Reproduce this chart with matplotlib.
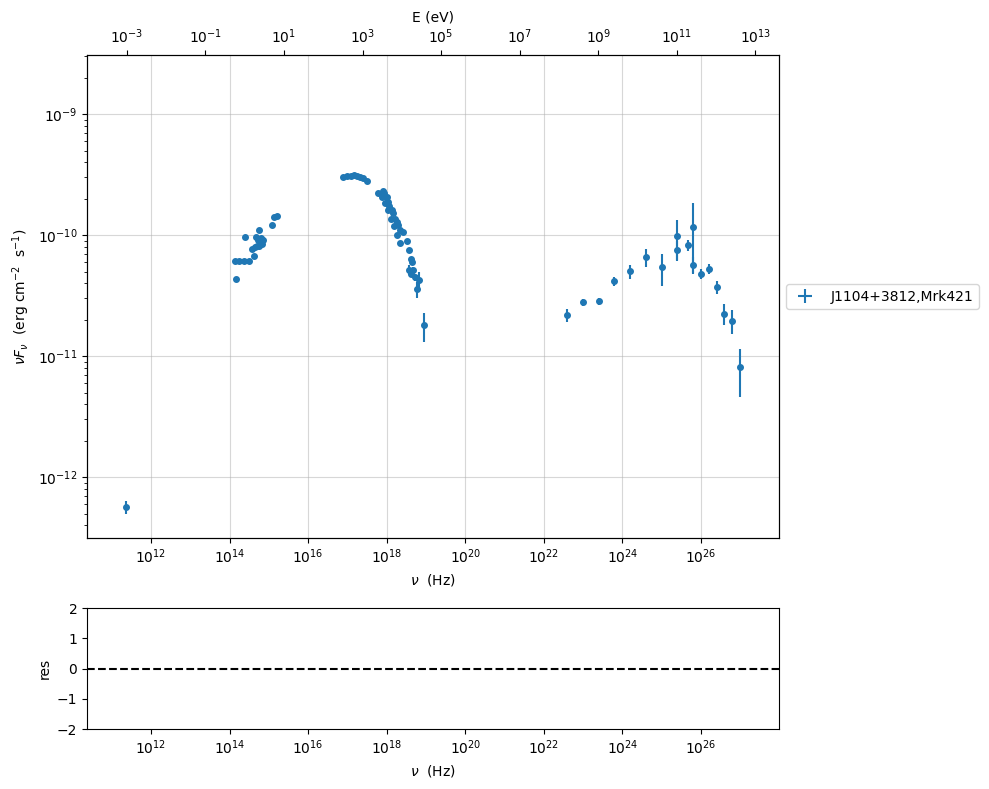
import matplotlib
matplotlib.use("Agg")
import matplotlib.pyplot as plt
import numpy as np

# SED of J1104+3812 (Mrk421)
nu = np.array([
    2.34e11,
    # optical / UV
    1.46e14, 1.35e14, 1.77e14, 2.32e14, 3.17e14, 2.47e14,
    3.72e14, 4.18e14, 4.43e14, 4.70e14, 4.98e14, 5.28e14, 5.60e14, 5.60e14,
    6.30e14, 6.67e14, 7.08e14, 1.22e15, 1.35e15, 1.58e15,
    # X-ray
    7.67e16, 9.70e16, 1.23e17, 1.46e17, 1.75e17, 2.08e17, 2.48e17, 3.13e17,
    6.08e17, 8.15e17, 8.63e17, 7.41e17, 9.93e17, 8.99e17, 1.09e18, 1.16e18,
    1.09e18, 1.33e18, 1.46e18, 1.28e18, 1.62e18, 1.79e18, 1.55e18, 1.96e18,
    2.17e18, 2.63e18, 1.79e18, 3.33e18, 2.17e18, 3.67e18, 4.13e18, 4.31e18,
    3.74e18, 4.72e18, 4.06e18, 5.22e18, 6.71e18, 5.97e18, 9.00e18,
    # gamma-ray
    3.78e22, 1.00e23, 2.55e23, 6.15e23, 1.54e24, 3.94e24, 1.01e25, 2.42e25,
    2.42e25, 4.78e25, 6.30e25, 6.30e25, 9.89e25, 1.61e26, 2.57e26, 3.80e26,
    6.08e26, 9.70e26,
])
nufnu = np.array([
    5.65e-13,
    4.31e-11, 6.09e-11, 6.09e-11, 6.09e-11, 6.09e-11, 9.68e-11,
    7.66e-11, 6.70e-11, 7.96e-11, 9.62e-11, 8.11e-11, 9.10e-11, 1.10e-10, 8.11e-11,
    9.44e-11, 8.43e-11, 9.10e-11, 1.21e-10, 1.40e-10, 1.45e-10,
    3.01e-10, 3.07e-10, 3.10e-10, 3.13e-10, 3.10e-10, 3.04e-10, 2.96e-10, 2.79e-10,
    2.21e-10, 2.32e-10, 2.21e-10, 2.07e-10, 2.05e-10, 1.85e-10, 1.88e-10, 1.74e-10,
    1.61e-10, 1.61e-10, 1.51e-10, 1.37e-10, 1.37e-10, 1.29e-10, 1.19e-10, 1.21e-10,
    1.10e-10, 1.06e-10, 1.00e-10, 8.9e-11, 8.6e-11, 7.5e-11, 6.4e-11, 6.0e-11,
    5.2e-11, 5.2e-11, 4.8e-11, 4.5e-11, 4.24e-11, 3.56e-11, 1.80e-11,
    2.18e-11, 2.78e-11, 2.85e-11, 4.17e-11, 5.04e-11, 6.57e-11, 5.41e-11, 9.82e-11,
    7.51e-11, 8.26e-11, 1.16e-10, 5.65e-11, 4.77e-11, 5.24e-11, 3.70e-11, 2.25e-11,
    1.97e-11, 8.07e-12,
])
nufnu_err = np.array([
    0.7e-13,
    0, 0, 0, 0, 0, 0,
    0, 0, 0, 0, 0, 0, 0, 0,
    0, 0, 0, 0, 0, 0,
    0, 0, 0, 0, 0, 0, 0, 0,
    0, 0, 0, 0, 0, 0, 0, 0,
    0, 0, 0, 0, 0, 0, 0, 0,
    0, 0, 0, 0, 0, 0, 0, 0,
    0.5e-11, 0.3e-11, 0.2e-11, 0.3e-11, 0.75e-11, 0.55e-11, 0.48e-11,
    0.28e-11, 0.19e-11, 0.2e-11, 0.36e-11, 0.68e-11, 1.14e-11, 1.6e-11, 3.6e-11,
    1.4e-11, 0.8e-11, 0.67e-10, 0.9e-11, 0.45e-11, 0.5e-11, 0.46e-11, 0.43e-11,
    0.45e-11, 3.5e-12,
])

h_eV = 4.135667e-15  # eV s

fig = plt.figure(figsize=(9.89, 7.89), dpi=100)
ax = fig.add_axes([0.088, 0.318, 0.6997, 0.612])
ax_res = fig.add_axes([0.088, 0.076, 0.6997, 0.1534])

ax.plot(nu, nufnu, 'o', color='C0', ms=4, zorder=3)
ax.errorbar(nu, nufnu, yerr=nufnu_err, xerr=np.zeros_like(nu), fmt='none',
            ecolor='C0', elinewidth=1.5, label='J1104+3812,Mrk421', zorder=3)
ax.set_xscale('log')
ax.set_yscale('log')
xlim = (nu.min() / 10, nu.max() * 10)
ax.set_xlim(xlim)
ax.set_ylim(nufnu.min() / 1.8, nufnu.max() * 9.8)
ax.grid(True, alpha=0.5)
ax.set_xlabel(r'$\nu$  (Hz)')
ax.set_ylabel(r'$\nu F_{\nu}$  (erg cm$^{-2}$  s$^{-1}$)')
ax.legend(loc='center left', bbox_to_anchor=(1.0, 0.5))

ax_top = ax.twiny()
ax_top.set_xscale('log')
ax_top.set_xlim(xlim[0] * h_eV, xlim[1] * h_eV)
ax_top.set_xlabel('E (eV)')

ax_res.axhline(0, ls='--', color='k')
ax_res.set_xscale('log')
ax_res.set_xlim(xlim)
ax_res.set_ylim(-2, 2)
ax_res.set_yticks([-2, -1, 0, 1, 2])
ax_res.set_xlabel(r'$\nu$  (Hz)')
ax_res.set_ylabel('res')

fig.savefig('out.png', dpi=100)
